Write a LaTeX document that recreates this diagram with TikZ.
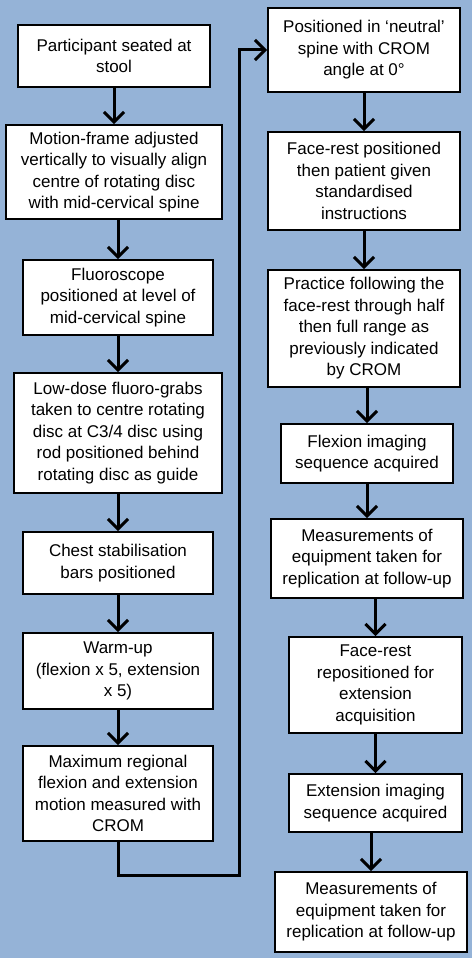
\documentclass[tikz,border=0pt]{standalone}
\usepackage{fontspec}
\setmainfont{Liberation Sans}
\usepackage{tikz}
\usetikzlibrary{arrows.meta}
\definecolor{bgblue}{RGB}{149,179,215}

\begin{document}
\begin{tikzpicture}[x=1pt,y=-1pt,
  box/.style={rectangle,draw,fill=white,line width=1.8pt,align=center,inner sep=0pt,
    font=\fontsize{17}{21.5}\selectfont},
  flow/.style={line width=3pt,-{Straight Barb[length=10pt,width=20pt]}}]
\fill[bgblue] (0,0) rectangle (472,958);
\useasboundingbox (0,0) rectangle (472,958);
\node [box,minimum width=192,minimum height=62] (L1) at (114,56) {Participant seated at\\stool};
\node [box,minimum width=216,minimum height=94] (L2) at (114,172) {Motion-frame adjusted\\vertically to visually align\\centre of rotating disc\\with mid-cervical spine};
\node [box,minimum width=190,minimum height=75] (L3) at (118,297.5) {Fluoroscope\\positioned at level of\\mid-cervical spine};
\node [box,minimum width=208,minimum height=120] (L4) at (118,433) {Low-dose fluoro-grabs\\taken to centre rotating\\disc at C3/4 disc using\\rod positioned behind\\rotating disc as guide};
\node [box,minimum width=190,minimum height=62] (L5) at (118,563) {Chest stabilisation\\bars positioned};
\node [box,minimum width=190,minimum height=76] (L6) at (118,671) {Warm-up\\(flexion x 5, extension\\x 5)};
\node [box,minimum width=190,minimum height=95] (L7) at (118,793.5) {Maximum regional\\flexion and extension\\motion measured with\\CROM};
\node [box,minimum width=192,minimum height=84] (R1) at (364,50) {Positioned in ‘neutral’\\spine with CROM\\angle at 0°};
\node [box,minimum width=192,minimum height=98] (R2) at (364,181) {Face-rest positioned\\then patient given\\standardised\\instructions};
\node [box,minimum width=192,minimum height=117] (R3) at (364,328.5) {Practice following the\\face-rest through half\\then full range as\\previously indicated\\by CROM};
\node [box,minimum width=172,minimum height=59] (R4) at (367,453.5) {Flexion imaging\\sequence acquired};
\node [box,minimum width=192,minimum height=79] (R5) at (367,558.5) {Measurements of\\equipment taken for\\replication at follow-up};
\node [box,minimum width=173,minimum height=96] (R6) at (375.5,685) {Face-rest\\repositioned for\\extension\\acquisition};
\node [box,minimum width=173,minimum height=58] (R7) at (375.5,803) {Extension imaging\\sequence acquired};
\node [box,minimum width=192,minimum height=80] (R8) at (371,912) {Measurements of\\equipment taken for\\replication at follow-up};
\coordinate (turn) at (239,875);
\foreach \a/\b in {L1/L2,L2/L3,L3/L4,L4/L5,L5/L6,L6/L7,R1/R2,R2/R3,R3/R4,R4/R5,R5/R6,R6/R7,R7/R8}
  \draw[flow] (\a.south -| \b) -- (\b.north);
\draw[flow] (L7.south) |- (turn) |- (R1.west);
\end{tikzpicture}
\end{document}
